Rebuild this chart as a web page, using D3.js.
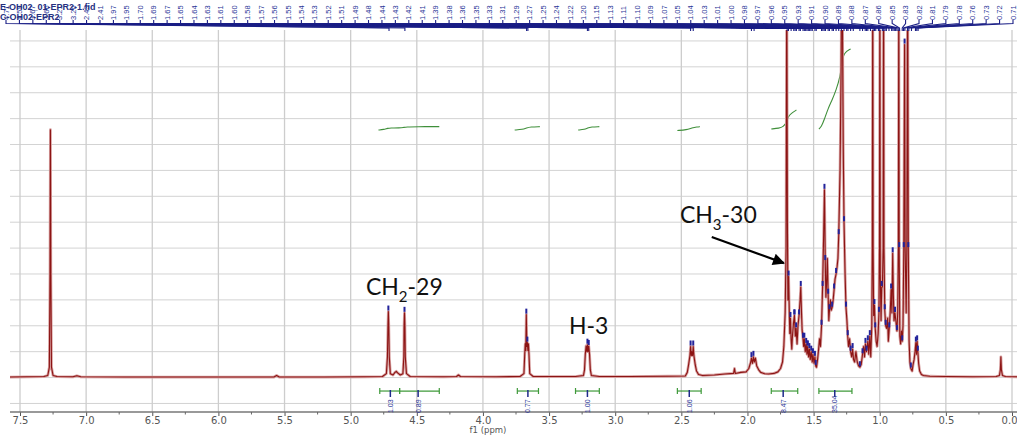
<!DOCTYPE html>
<html>
<head>
<meta charset="utf-8">
<script src="https://cdn.jsdelivr.net/npm/d3@7"></script>
<style>
  body { margin: 0; background: #fff; }
  svg { display: block; }
</style>
</head>
<body>
<svg id="chart" width="1017" height="435"></svg>
<script>
// ---- data -------------------------------------------------------------
// axis ticks (ppm)
const tickPpm = [7.5, 7.0, 6.5, 6.0, 5.5, 5.0, 4.5, 4.0, 3.5, 3.0, 2.5, 2.0, 1.5, 1.0, 0.5, 0.0];
const minorTickPpm = [7.25, 6.75, 6.25, 5.75, 5.25, 4.75, 4.25, 3.75, 3.25, 2.75, 2.25, 1.75, 1.25, 0.75, 0.25];

// 1H spectrum trace: [chemical shift (ppm), intensity]
const spectrum = [
  [7.58,0.02],[7.45,0.03],[7.32,0.04],[7.29,0.08],[7.278,0.4],[7.273,4.0],[7.27,9.57],[7.267,4.0],[7.262,0.4],[7.25,0.08],
  [7.22,0.04],[7.10,0.03],[7.07,0.07],[7.04,0.03],[6.70,0.02],[6.30,0.02],[5.90,0.02],[5.58,0.02],[5.56,0.08],[5.54,0.02],
  [5.20,0.02],[4.90,0.03],[4.76,0.04],[4.73,0.15],[4.722,0.8],[4.718,2.0],[4.715,2.55],[4.712,2.0],[4.708,0.8],[4.70,0.15],
  [4.68,0.10],[4.665,0.20],[4.655,0.24],[4.645,0.18],[4.625,0.10],[4.605,0.15],[4.598,0.8],[4.596,2.0],[4.593,2.5],[4.59,2.0],
  [4.587,0.8],[4.578,0.15],[4.55,0.04],[4.30,0.03],[4.20,0.04],[4.185,0.10],[4.17,0.04],[3.90,0.03],[3.72,0.04],[3.69,0.15],
  [3.684,0.9],[3.680,1.30],[3.676,1.05],[3.672,2.43],[3.668,1.2],[3.664,1.35],[3.660,1.05],[3.656,1.30],[3.652,0.9],[3.646,0.15],
  [3.62,0.04],[3.30,0.04],[3.24,0.08],[3.232,0.3],[3.226,0.9],[3.22,1.22],[3.214,1.0],[3.21,1.27],[3.205,1.0],[3.20,1.22],
  [3.194,0.9],[3.188,0.3],[3.18,0.08],[3.12,0.04],[2.90,0.04],[2.60,0.05],[2.47,0.06],[2.455,0.2],[2.445,0.5],[2.435,0.85],
  [2.43,1.2],[2.425,0.85],[2.42,1.0],[2.415,0.85],[2.41,1.2],[2.405,0.85],[2.395,0.5],[2.385,0.25],[2.37,0.12],[2.34,0.08],
  [2.25,0.1],[2.17,0.14],[2.105,0.16],[2.098,0.35],[2.092,0.16],[2.05,0.2],[2.01,0.22],[1.99,0.35],[1.975,0.6],[1.97,0.75],
  [1.962,0.55],[1.955,0.8],[1.948,0.6],[1.94,0.75],[1.93,0.45],[1.915,0.3],[1.90,0.2],[1.87,0.15],[1.84,0.14],[1.80,0.16],
  [1.77,0.22],[1.75,0.35],[1.735,0.6],[1.725,1.2],[1.715,2.5],[1.708,5.0],[1.703,16],[1.698,6.0],[1.694,3.0],[1.689,3.9],
  [1.684,2.6],[1.68,1.7],[1.675,2.3],[1.67,1.5],[1.665,1.1],[1.66,1.6],[1.652,2.1],[1.645,2.4],[1.638,1.6],[1.632,1.9],
  [1.625,1.3],[1.618,2.0],[1.61,2.4],[1.602,3.0],[1.597,3.5],[1.592,2.6],[1.587,1.85],[1.58,1.5],[1.575,1.2],[1.57,1.5],
  [1.563,1.0],[1.556,1.3],[1.55,0.9],[1.545,1.2],[1.538,0.8],[1.532,1.1],[1.525,0.7],[1.518,1.0],[1.51,0.6],[1.505,0.9],
  [1.497,0.55],[1.49,0.8],[1.484,0.45],[1.478,0.4],[1.47,0.7],[1.462,1.1],[1.455,1.5],[1.448,1.2],[1.44,2.0],[1.432,3.5],
  [1.424,5.5],[1.418,7.25],[1.412,4.5],[1.407,3.1],[1.402,3.6],[1.396,4.6],[1.39,3.2],[1.385,2.2],[1.38,2.6],[1.373,3.0],
  [1.367,2.6],[1.36,2.7],[1.352,3.0],[1.345,3.4],[1.338,3.8],[1.33,4.0],[1.322,4.3],[1.316,4.6],[1.31,5.5],[1.30,8.0],
  [1.292,12],[1.287,16],[1.282,14],[1.276,9],[1.27,6],[1.262,4],[1.255,2.7],[1.248,2.2],[1.242,1.6],[1.236,1.2],
  [1.228,1.5],[1.22,1.0],[1.212,0.8],[1.205,1.1],[1.198,0.7],[1.19,0.6],[1.18,1.0],[1.17,0.6],[1.16,0.45],[1.15,0.4],
  [1.14,0.5],[1.13,0.9],[1.122,1.2],[1.115,0.8],[1.108,1.3],[1.10,1.0],[1.09,1.4],[1.083,0.9],[1.075,1.6],[1.068,0.8],
  [1.06,2.0],[1.056,5],[1.053,16],[1.05,5],[1.046,2.4],[1.04,2.8],[1.034,1.9],[1.027,1.4],[1.02,1.2],[1.012,1.7],
  [1.006,2.5],[1.002,5],[0.999,16],[0.996,4],[0.99,2.2],[0.985,3.5],[0.98,3.5],[0.974,5],[0.971,16],[0.968,5],
  [0.962,2.6],[0.955,2.0],[0.948,1.9],[0.94,2.3],[0.935,1.4],[0.928,1.9],[0.92,2.6],[0.914,3.4],[0.908,2.5],[0.902,4.8],
  [0.897,3.2],[0.892,2.2],[0.885,2.5],[0.878,2.2],[0.87,1.8],[0.864,2.5],[0.859,5],[0.856,16],[0.853,5],[0.848,1.6],
  [0.842,1.3],[0.836,1.8],[0.83,1.4],[0.824,2],[0.818,5],[0.812,12.86],[0.808,5],[0.80,2.5],[0.795,5],[0.789,16],
  [0.784,5],[0.778,1.4],[0.772,0.6],[0.765,0.35],[0.755,0.25],[0.748,0.5],[0.74,0.7],[0.733,1.0],[0.727,1.35],[0.722,0.9],
  [0.717,1.4],[0.712,1.0],[0.706,0.55],[0.698,0.25],[0.685,0.12],[0.67,0.08],[0.62,0.05],[0.50,0.04],[0.30,0.03],[0.12,0.04],
  [0.095,0.08],[0.088,0.3],[0.084,0.8],[0.08,0.3],[0.072,0.08],[0.05,0.04],[-0.04,0.03]
];

// picked peaks (ppm), labelled along the top
const pickedPeaks = [
  4.71, 4.59, 3.67, 3.66, 3.21, 3.20, 2.43, 2.41, 1.97, 1.95, 1.70, 1.69, 1.67, 1.65, 1.64,
  1.63, 1.61, 1.60, 1.58, 1.57, 1.56, 1.55, 1.54, 1.53, 1.52, 1.51, 1.49, 1.48, 1.44, 1.43, 1.42,
  1.41, 1.39, 1.38, 1.36, 1.35, 1.33, 1.31, 1.29, 1.27, 1.25, 1.24, 1.22, 1.20, 1.15, 1.13, 1.11,
  1.10, 1.09, 1.07, 1.05, 1.04, 1.03, 1.01, 1.00, 0.98, 0.97, 0.96, 0.95, 0.93, 0.91, 0.90, 0.89,
  0.88, 0.87, 0.86, 0.85, 0.83, 0.82, 0.81, 0.79, 0.78, 0.76, 0.73, 0.72, 0.71
];

// integration regions
const integralFrom   = [4.78, 4.63, 3.74, 3.30, 2.53, 1.82, 1.46];
const integralTo     = [4.63, 4.33, 3.58, 3.12, 2.35, 1.62, 1.21];
const integralCentre = [4.70, 4.49, 3.66, 3.21, 2.44, 1.73, 1.34];
const integralValue  = ["1.03", "0.89", "0.77", "1.00", "1.06", "8.47", "35.04"];

// running integral curves: [ppm, level]
const integralCurves = [
  [[4.79,9.56],[4.75,9.58],[4.72,9.63],[4.70,9.64],[4.63,9.64],[4.60,9.66],[4.58,9.68],[4.50,9.69],[4.33,9.69]],
  [[3.76,9.56],[3.70,9.58],[3.67,9.64],[3.64,9.68],[3.57,9.69]],
  [[3.28,9.56],[3.23,9.58],[3.21,9.64],[3.18,9.68],[3.12,9.69]],
  [[2.53,9.54],[2.46,9.57],[2.42,9.64],[2.38,9.68],[2.36,9.69]],
  [[1.82,9.60],[1.76,9.63],[1.73,9.68],[1.705,9.85],[1.69,10.1],[1.67,10.2],[1.63,10.33]],
  [[1.46,9.60],[1.44,9.70],[1.42,9.95],[1.39,10.40],[1.36,10.72],[1.33,11.1],[1.30,11.6],[1.285,12.2],[1.27,12.55],[1.22,12.69]]
];

// assignments: [label main, subscript, suffix, ppm, level]
const assignments = [
  ["CH", "2", "-29", 4.885, 3.19],
  ["H-3", "", "", 3.35, 1.68],
  ["CH", "3", "-30", 2.511, 5.97]
];
const arrowFrom = [2.27, 5.43];
const arrowTo = [1.725, 4.42];

// ---- drawing ----------------------------------------------------------
const plotLeft = 10, plotRight = 1017, plotTop = 30, axisY = 412;

const x = d3.scaleLinear().domain([7.5, 0]).range([20, 1012]);
const y = d3.scaleLinear().domain([-1.33, 13.5]).range([axisY, 28]);

const svg = d3.select("#chart");
const defs = svg.append("defs");
defs.append("clipPath").attr("id", "plotClip")
  .append("rect").attr("x", plotLeft).attr("y", plotTop)
  .attr("width", plotRight - plotLeft).attr("height", axisY - plotTop);
defs.append("marker").attr("id", "arrowHead")
  .attr("viewBox", "0 0 10 10").attr("refX", 9).attr("refY", 5)
  .attr("markerWidth", 15).attr("markerHeight", 12).attr("markerUnits", "userSpaceOnUse")
  .attr("orient", "auto")
  .append("path").attr("d", "M0,0 L10,5 L0,10 Z").attr("fill", "#000");

// grid
svg.append("g").selectAll("line").data(d3.range(-1, 14)).join("line")
  .attr("x1", plotLeft).attr("x2", plotRight)
  .attr("y1", d => y(d)).attr("y2", d => y(d))
  .attr("stroke", "#d3d3d3").attr("stroke-width", 1);
svg.append("g").selectAll("line").data(tickPpm).join("line")
  .attr("x1", d => x(d)).attr("x2", d => x(d))
  .attr("y1", plotTop).attr("y2", axisY)
  .attr("stroke", "#cdcdcd").attr("stroke-width", 1.3);

// x axis
const axisG = svg.append("g").attr("transform", `translate(0,${axisY})`)
  .call(d3.axisBottom(x).tickValues(tickPpm).tickFormat(d3.format(".1f")).tickSize(4).tickPadding(1));
axisG.select(".domain").remove();
axisG.selectAll(".tick line").attr("stroke", "#555");
axisG.selectAll(".tick text").attr("fill", "#555")
  .style("font-family", "'DejaVu Sans', Verdana, sans-serif").style("font-size", "10px");
// the last label sits against the right edge
axisG.selectAll(".tick text").filter(d => d === 0).attr("text-anchor", "end").attr("x", 5);
svg.append("line").attr("x1", plotLeft).attr("x2", plotRight).attr("y1", axisY).attr("y2", axisY)
  .attr("stroke", "#777").attr("stroke-width", 1.3);
svg.append("g").selectAll("line").data(minorTickPpm).join("line")
  .attr("x1", d => x(d)).attr("x2", d => x(d))
  .attr("y1", axisY).attr("y2", axisY + 2.5)
  .attr("stroke", "#666");
svg.append("text").attr("x", 488).attr("y", 432.5).attr("text-anchor", "middle")
  .attr("fill", "#555").style("font-family", "'DejaVu Sans', Verdana, sans-serif").style("font-size", "8.5px")
  .text("f1 (ppm)");

// integral curves
const curveLine = d3.line().x(d => x(d[0])).y(d => y(d[1])).curve(d3.curveBasis);
svg.append("g").selectAll("path").data(integralCurves).join("path")
  .attr("d", curveLine).attr("fill", "none")
  .attr("stroke", "#3f8f3a").attr("stroke-width", 1.1);

// spectrum
const traceLine = d3.line().x(d => x(d[0])).y(d => y(d[1]));
const plot = svg.append("g").attr("clip-path", "url(#plotClip)");
plot.append("path").datum(spectrum).attr("d", traceLine)
  .attr("fill", "none").attr("stroke", "#d8a2a2").attr("stroke-width", 2.8)
  .attr("stroke-linejoin", "round");
plot.append("path").datum(spectrum).attr("d", traceLine)
  .attr("fill", "none").attr("stroke", "#8c1414").attr("stroke-width", 1.1)
  .attr("stroke-linejoin", "round");

// peak markers at the local maximum near each picked shift
const peakTop = p => {
  const near = spectrum.filter(d => Math.abs(d[0] - p) <= 0.006);
  return near.length ? d3.greatest(near, d => d[1]) : [p, 0];
};
plot.append("g").selectAll("rect").data(pickedPeaks.map(peakTop).filter(d => d[1] < 13.3)).join("rect")
  .attr("x", d => x(d[0]) - 1).attr("y", d => y(d[1]) - 6)
  .attr("width", 2).attr("height", 5).attr("fill", "#23239a");

// peak label header
const labelX = d3.scalePoint().domain(d3.range(pickedPeaks.length)).range([6, 1013]);
const header = svg.append("g");
header.selectAll("path").data(pickedPeaks).join("path")
  .attr("d", (d, i) => `M${labelX(i)},20 V23.5 L${x(d)},28 V31`)
  .attr("fill", "none").attr("stroke", "#1b1f86").attr("stroke-width", 1.1);
header.selectAll("text").data(pickedPeaks).join("text")
  .attr("transform", (d, i) => `translate(${labelX(i) + 2.6},20) rotate(-90)`)
  .attr("fill", "#2a3597")
  .style("font-family", "'Liberation Sans', Arial, sans-serif").style("font-size", "7.5px")
  .text(d => d3.format(".2f")(d));
header.append("text").attr("x", 0).attr("y", 10).attr("fill", "#26307f")
  .style("font-family", "'Liberation Sans', Arial, sans-serif").style("font-size", "9px").style("font-weight", "bold")
  .text("E-OH02_01-EPR2-1.fid");
header.append("text").attr("x", 0).attr("y", 20).attr("fill", "#26307f")
  .style("font-family", "'Liberation Sans', Arial, sans-serif").style("font-size", "9px").style("font-weight", "bold")
  .text("C-OH02-EPR2");

// integration brackets
const brk = svg.append("g");
const bY = y(-0.52);
integralFrom.forEach((f, i) => {
  const t = integralTo[i];
  brk.append("line").attr("x1", x(f)).attr("x2", x(t)).attr("y1", bY).attr("y2", bY)
    .attr("stroke", "#3f9a3a").attr("stroke-width", 1.2);
  [f, t].forEach(e => brk.append("line").attr("x1", x(e)).attr("x2", x(e))
    .attr("y1", bY - 3).attr("y2", bY + 3).attr("stroke", "#3f9a3a").attr("stroke-width", 1.2));
  const c = integralCentre[i];
  brk.append("line").attr("x1", x(c)).attr("x2", x(c)).attr("y1", bY - 1).attr("y2", bY + 6)
    .attr("stroke", "#1e2a8a").attr("stroke-width", 1.5);
  brk.append("text").attr("transform", `translate(${x(c) + 2.5},${axisY + 1}) rotate(-90)`)
    .attr("fill", "#2a3597")
    .style("font-family", "'Liberation Sans', Arial, sans-serif").style("font-size", "7px")
    .text(integralValue[i]);
});

// assignments
const ann = svg.append("g").style("font-family", "Lato, Carlito, 'Open Sans', sans-serif").attr("fill", "#111");
assignments.forEach(([main, sub, suffix, p, lv]) => {
  const t = ann.append("text").attr("x", x(p)).attr("y", y(lv)).style("font-size", "23px");
  t.append("tspan").text(main);
  if (sub) {
    t.append("tspan").attr("dy", 7).style("font-size", "15px").text(sub);
    t.append("tspan").attr("dy", -7).text(suffix);
  }
});
ann.append("line")
  .attr("x1", x(arrowFrom[0])).attr("y1", y(arrowFrom[1]))
  .attr("x2", x(arrowTo[0])).attr("y2", y(arrowTo[1]))
  .attr("stroke", "#000").attr("stroke-width", 2.2)
  .attr("marker-end", "url(#arrowHead)");
</script>
</body>
</html>
